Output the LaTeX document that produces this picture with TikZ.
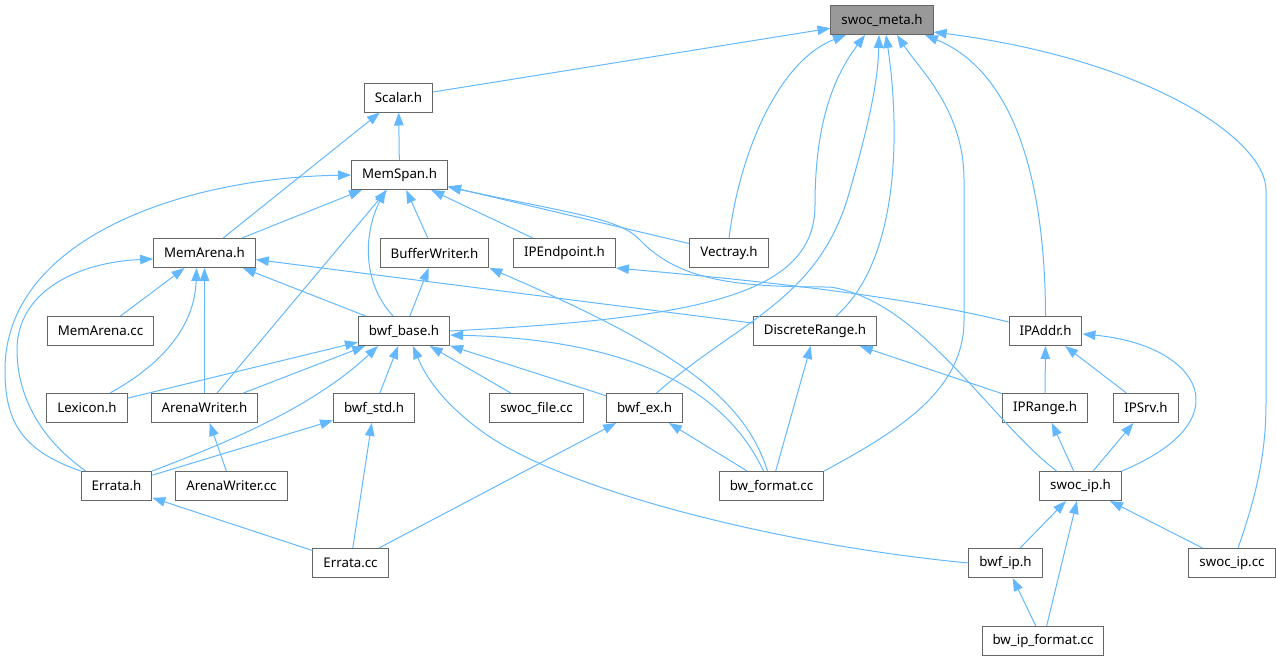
\documentclass[tikz,border=0pt]{standalone}
\usepackage{fontspec}
\setmainfont{Noto Sans}
\usetikzlibrary{arrows.meta}
\definecolor{edgeblue}{HTML}{63B8FF}
\definecolor{boxgray}{HTML}{666666}
\definecolor{metagray}{HTML}{999999}
\begin{document}
\begin{tikzpicture}[x=1pt, y=-1pt, >={Triangle[length=13pt,width=9.5pt]},
    file/.style={draw=boxgray, line width=1pt, fill=white, minimum height=29pt,
        inner xsep=10.5pt, inner ysep=0pt, font=\fontsize{13.3}{16}\selectfont},
    incl/.style={->, draw=edgeblue, line width=1pt}]
\useasboundingbox (0,0) rectangle (1276,662);

\node[file, fill=metagray] (meta) at (882,20) {swoc\_meta.h};
\node[file] (scalar) at (398.5,97.5) {Scalar.h};
\node[file] (memspan) at (399.5,175) {MemSpan.h};
\node[file] (memarena) at (204.5,253) {MemArena.h};
\node[file] (bufwriter) at (434.5,253) {BufferWriter.h};
\node[file] (ipendpoint) at (564.5,253) {IPEndpoint.h};
\node[file] (vectray) at (729,253) {Vectray.h};
\node[file] (memarenacc) at (100.5,331) {MemArena.cc};
\node[file] (bwfbase) at (404,331) {bwf\_base.h};
\node[file] (discrete) at (815,331) {DiscreteRange.h};
\node[file] (ipaddr) at (1045.5,331) {IPAddr.h};
\node[file] (lexicon) at (87,408) {Lexicon.h};
\node[file] (arenawriter) at (204.5,408) {ArenaWriter.h};
\node[file] (bwfstd) at (374,408) {bwf\_std.h};
\node[file] (swocfile) at (536.5,408) {swoc\_file.cc};
\node[file] (bwfex) at (644.5,408) {bwf\_ex.h};
\node[file] (iprange) at (1045,408) {IPRange.h};
\node[file] (ipsrv) at (1146,408) {IPSrv.h};
\node[file] (errata) at (116.5,486) {Errata.h};
\node[file] (arenawritercc) at (231.5,486) {ArenaWriter.cc};
\node[file] (bwformat) at (771.5,486) {bw\_format.cc};
\node[file] (swocip) at (1080.5,486) {swoc\_ip.h};
\node[file] (erratacc) at (350.5,563) {Errata.cc};
\node[file] (bwfip) at (1005.5,563) {bwf\_ip.h};
\node[file] (swocipcc) at (1232,563) {swoc\_ip.cc};
\node[file] (bwipformat) at (1043,641) {bw\_ip\_format.cc};

\foreach \a/\b in {scalar/meta, memspan/scalar, memarena/scalar,
    memarena/memspan, arenawriter/memspan, bufwriter/memspan, ipendpoint/memspan, vectray/memspan,
    memarenacc/memarena, arenawriter/memarena, discrete/memarena, bwfbase/memarena, bwfbase/bufwriter,
    lexicon/bwfbase, arenawriter/bwfbase, bwfstd/bwfbase, swocfile/bwfbase, bwfex/bwfbase,
    arenawritercc/arenawriter, errata/bwfstd, erratacc/errata, erratacc/bwfstd, erratacc/bwfex,
    bwformat/bwfex, bwformat/discrete, iprange/discrete, iprange/ipaddr, ipsrv/ipaddr,
    swocip/iprange, swocip/ipsrv, bwfip/swocip, bwipformat/swocip, swocipcc/swocip, bwipformat/bwfip}
{
    \draw[incl] (\a) -- (\b);
}

\draw[incl] (errata.north west) .. controls (20,450) and (5,420) .. (5,370)
    .. controls (5,240) and (180,178) .. (memspan.west);
\draw[incl] ([xshift=5pt]errata.north west) .. controls (35,435) and (17,390) .. (17,350)
    .. controls (17,290) and (80,262) .. ([yshift=-6pt]memarena.west);
\draw[incl] ([xshift=23pt]lexicon.north) .. controls (170,360) and (195,320) .. ([xshift=-8pt]memarena.south);
\draw[incl] ([xshift=-11pt]bwfbase.north) .. controls (360,280) and (365,230) .. ([xshift=-14pt]memspan.south);
\draw[incl] (errata.north east) .. controls (220,445) and (310,410) .. ([xshift=-26pt]bwfbase.south);
\draw[incl] (bwfbase.east) .. controls (700,318) and (815,295) .. (815,205)
    .. controls (815,120) and (835,75) .. ([xshift=-17pt]meta.south);
\draw[incl] ([xshift=12pt]bwfex.north) .. controls (740,320) and (820,300) .. (850,190)
    .. controls (870,120) and (878,80) .. ([xshift=-3pt]meta.south);
\draw[incl] (vectray.north) .. controls (740,150) and (780,60) .. ([xshift=-36pt]meta.south);
\draw[incl] ([xshift=21pt]discrete.north) .. controls (900,260) and (900,130) .. ([xshift=4pt]meta.south);
\draw[incl] (bwformat.north east) .. controls (900,430) and (964,390) .. (964,320) -- (964,180)
    .. controls (964,110) and (920,70) .. ([xshift=15pt]meta.south);
\draw[incl] (ipaddr.north) .. controls (1045,170) and (1010,70) .. ([xshift=43pt]meta.south);
\draw[incl] ([xshift=6pt]swocipcc.north) .. controls (1262,480) and (1266,440) .. (1266,400) -- (1266,190)
    .. controls (1266,140) and (1150,60) .. ([yshift=-12pt]meta.east);
\draw[incl] ([xshift=-24pt]swocip.north) .. controls (990,420) and (920,300) .. (830,287)
    .. controls (740,287) and (680,282) .. (640,240)
    .. controls (620,219) and (580,215) .. ([yshift=-12pt]memspan.east);
\draw[incl] ([xshift=-8pt]bwformat.north) .. controls (730,400) and (650,340) .. ([yshift=-4pt]bwfbase.east);
\draw[incl] ([xshift=-4pt]bwformat.north) .. controls (745,400) and (680,350) .. (bufwriter.south east);
\draw[incl] (bwfip.west) .. controls (780,545) and (560,490) .. (480,430)
    .. controls (440,400) and (425,375) .. ([xshift=9pt]bwfbase.south);
\draw[incl] ([yshift=-6pt]ipaddr.north west) .. controls (900,295) and (750,280) .. (ipendpoint.south east);
\draw[incl] (swocip.north east) .. controls (1245,420) and (1200,345) .. ([yshift=-3pt]ipaddr.east);
\end{tikzpicture}
\end{document}
